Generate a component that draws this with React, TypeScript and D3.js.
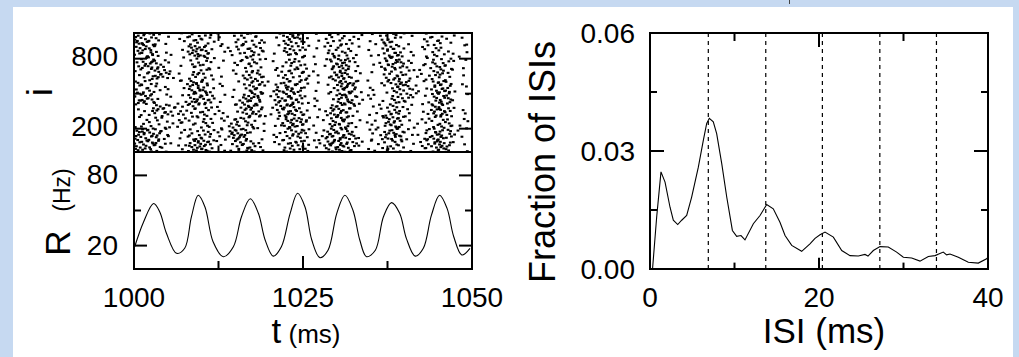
import React from "react";
import * as d3 from "d3";

// ---------- data ----------
// Population rate R (Hz) vs time t (ms)
const rTimes = [1000.1, 1001.4, 1002.9, 1003.8, 1004.8, 1006.3, 1007.5, 1008.5, 1009.5, 1010.5, 1011.7, 1013.2, 1014.7, 1015.9, 1017.2, 1018.4, 1019.4, 1020.6, 1021.8, 1023.1, 1024.2, 1025.3, 1026.3, 1027.5, 1028.7, 1030.0, 1031.2, 1032.4, 1033.4, 1034.4, 1035.7, 1036.9, 1038.1, 1039.3, 1040.3, 1041.6, 1042.8, 1044.0, 1045.2, 1046.3, 1047.3, 1048.5, 1049.7];
const rValues = [19, 40, 56, 49, 30.5, 13.4, 17.7, 44.7, 63, 53, 23.3, 10.5, 19, 44.7, 60, 47.6, 24.8, 11, 19, 47.6, 64.7, 53, 24.8, 9.7, 16, 47.6, 63, 50, 24.8, 10.5, 16, 44.7, 56.7, 47.6, 26, 11, 17.7, 46, 63, 52, 27.6, 12, 17.7];

// ISI distribution
const isiTimes = [0.3, 0.79, 1.3, 1.78, 2.37, 2.76, 3.28, 3.75, 4.34, 4.93, 5.72, 6.31, 6.71, 7.02, 7.49, 7.89, 8.49, 9.08, 9.75, 10.26, 10.77, 11.24, 12.23, 13.02, 13.81, 14.59, 15.38, 15.98, 16.77, 17.95, 18.93, 19.53, 20.12, 20.71, 21.7, 22.69, 23.67, 24.65, 25.44, 25.8, 26.43, 27.22, 28.2, 29.19, 29.98, 30.97, 31.95, 32.94, 33.73, 34.71, 35.1, 35.5, 36.49, 37.67, 38.85, 39.84, 40];
const isiValues = [0, 0.0132, 0.0247, 0.0221, 0.0157, 0.0124, 0.0113, 0.0124, 0.0136, 0.0183, 0.0259, 0.0327, 0.037, 0.0383, 0.0374, 0.0344, 0.0268, 0.0183, 0.0098, 0.0083, 0.0085, 0.0074, 0.0115, 0.0136, 0.0164, 0.0153, 0.0119, 0.0085, 0.006, 0.0045, 0.0064, 0.0078, 0.0087, 0.0094, 0.0081, 0.0047, 0.0034, 0.0033, 0.0037, 0.0033, 0.0047, 0.0057, 0.0056, 0.0043, 0.003, 0.0028, 0.002, 0.0032, 0.0034, 0.0043, 0.0036, 0.0038, 0.003, 0.0017, 0.0015, 0.0026, 0.003];

// dashed reference lines (multiples of the oscillation period)
const periodLines = [6.9, 13.7, 20.4, 27.2, 33.9];

// Raster spike counts per cell: rows = neuron bands (top to bottom, 102 neurons each), cols = 1 ms bins from 1000 ms
const rasterDensity = [
  "67641113443321134431026752113343221234421113432111",
  "57731101786212245541114543113443211126751113431121",
  "26752111344311124431113443102676210127752113443111",
  "23565311344310114541124454111676211114543222454110",
  "45431112786211112772157752111278621112675221686111",
  "78521112677411126761257752111268621212454212676101",
  "12356533444321126761267742112776211234532112675111",
  "23233232334312455421126764112676211226752212454121",
  "67764113444332786211124554125776411326762125775211",
  "67753112687521267621124554125776421224541125775111",
];

// tick labels
const tTicks = [1000, 1025, 1050];
const tMinor = [1012.5, 1037.5];
const iTicks = [200, 800];
const iMinor = [500];
const rTicks = [20, 80];
const rMinor = [50];
const isiXTicks = [0, 20, 40];
const isiXMinor = [10, 30];
const isiYTicks = [0, 0.03, 0.06];
const isiYMinor = [0.015, 0.045];

const W = 1019;
const H = 357;
const FONT = "'Liberation Sans', Arial, Helvetica, sans-serif";

function halton(index: number, base: number) {
  let f = 1, r = 0, i = index;
  while (i > 0) {
    f /= base;
    r += f * (i % base);
    i = Math.floor(i / base);
  }
  return r;
}

export default function App() {
  // left panel scales
  const xT = d3.scaleLinear().domain([1000, 1050]).range([134, 472]);
  const yI = d3.scaleLinear().domain([0, 1020]).range([152, 33]);
  const yR = d3.scaleLinear().domain([0, 100]).range([269, 152]);
  // right panel scales
  const xS = d3.scaleLinear().domain([0, 40]).range([650, 988]);
  const yS = d3.scaleLinear().domain([0, 0.06]).range([269, 33]);

  const rLine = d3
    .line<number>()
    .x((_, k) => xT(rTimes[k]))
    .y((v) => yR(v))
    .curve(d3.curveCatmullRom.alpha(0.5))(rValues) || "";

  const isiLine = d3
    .line<number>()
    .x((_, k) => xS(isiTimes[k]))
    .y((v) => yS(v))(isiValues) || "";

  const spikes: { t: number; i: number }[] = [];
  const rows = rasterDensity.length;
  const rowSpan = 1020 / rows;
  rasterDensity.forEach((row, r) => {
    const lo = 1020 - rowSpan * (r + 1);
    row.split("").forEach((ch, c) => {
      const n = +ch;
      for (let k = 0; k < n; k++) {
        const idx = (r * 50 + c) * 11 + k + 1;
        spikes.push({ t: 1000 + c + halton(idx, 2), i: lo + halton(idx, 3) * rowSpan });
      }
    });
  });

  const sw = 2;
  const tickStyle = { stroke: "#000", strokeWidth: sw };
  const tickFont = { fontFamily: FONT, fontSize: 28, fill: "#000" };

  return (
    <svg width={W} height={H} style={{ position: "absolute", left: 0, top: 0 }} xmlns="http://www.w3.org/2000/svg">
      <rect x={0} y={0} width={W} height={H} fill="#c6d9f1" />
      <rect x={13} y={7} width={1000} height={H - 7} fill="#fff" />
      <line x1={789.5} y1={0} x2={789.5} y2={4} stroke="#444" strokeWidth={1} />
      <defs>
        <clipPath id="rasterClip">
          <rect x={134} y={33} width={338} height={119} />
        </clipPath>
      </defs>

      {/* raster */}
      <g clipPath="url(#rasterClip)">
        {spikes.map((s, k) => (
          <rect key={k} x={xT(s.t) - 1.4} y={yI(s.i) - 1} width={2.8} height={2.1} fill="#000" />
        ))}
      </g>
      <rect x={134} y={33} width={338} height={119} fill="none" stroke="#000" strokeWidth={sw} />
      {/* raster ticks */}
      {[...iTicks.map((v) => [v, 13]), ...iMinor.map((v) => [v, 7])].map(([v, L], k) => (
        <g key={"it" + k}>
          <line x1={134} x2={134 + L} y1={yI(v)} y2={yI(v)} {...tickStyle} />
          <line x1={472} x2={472 - L} y1={yI(v)} y2={yI(v)} {...tickStyle} />
        </g>
      ))}
      {[...tTicks.map((v) => [v, 12]), ...tMinor.map((v) => [v, 8])].map(([v, L], k) => (
        <g key={"tt" + k}>
          <line x1={xT(v)} x2={xT(v)} y1={33} y2={33 + L} {...tickStyle} />
          <line x1={xT(v)} x2={xT(v)} y1={152} y2={152 - L * 0.8} {...tickStyle} />
        </g>
      ))}
      {iTicks.map((v) => (
        <text key={"il" + v} x={118} y={yI(v) + 7} textAnchor="end" {...tickFont}>{v}</text>
      ))}

      {/* rate panel */}
      <path d={rLine} fill="none" stroke="#000" strokeWidth={1.1} />
      <rect x={134} y={152} width={338} height={117} fill="none" stroke="#000" strokeWidth={sw} />
      {[...rTicks.map((v) => [v, 13]), ...rMinor.map((v) => [v, 7])].map(([v, L], k) => (
        <g key={"rt" + k}>
          <line x1={134} x2={134 + L} y1={yR(v)} y2={yR(v)} {...tickStyle} />
          <line x1={472} x2={472 - L} y1={yR(v)} y2={yR(v)} {...tickStyle} />
        </g>
      ))}
      {[...tTicks.map((v) => [v, 13]), ...tMinor.map((v) => [v, 8])].map(([v, L], k) => (
        <line key={"rb" + k} x1={xT(v)} x2={xT(v)} y1={269} y2={269 - L} {...tickStyle} />
      ))}
      {rTicks.map((v) => (
        <text key={"rl" + v} x={118} y={yR(v) + 9} textAnchor="end" {...tickFont}>{v}</text>
      ))}
      {tTicks.map((v) => (
        <text key={"tl" + v} x={xT(v)} y={307} textAnchor="middle" {...tickFont}>{v}</text>
      ))}
      <text x={306} y={343} textAnchor="middle" fontFamily={FONT} fill="#000">
        <tspan fontSize={35}>t</tspan>
        <tspan fontSize={26}> (ms)</tspan>
      </text>
      <text transform="translate(52,92) rotate(-90)" textAnchor="middle" fontFamily={FONT} fontSize={35} fill="#000">i</text>
      <text transform="translate(70,243) rotate(-90)" textAnchor="middle" fontFamily={FONT} fontSize={35} fill="#000">R</text>
      <text transform="translate(70,190) rotate(-90)" textAnchor="middle" fontFamily={FONT} fontSize={23} fill="#000">(Hz)</text>

      {/* ISI panel */}
      {periodLines.map((v) => (
        <line key={"pl" + v} x1={xS(v)} x2={xS(v)} y1={33} y2={269} stroke="#000" strokeWidth={1.2} strokeDasharray="4,4" />
      ))}
      <path d={isiLine} fill="none" stroke="#000" strokeWidth={1.1} />
      <rect x={650} y={33} width={338} height={236} fill="none" stroke="#000" strokeWidth={sw} />
      {[...isiYTicks.map((v) => [v, 14]), ...isiYMinor.map((v) => [v, 7])].map(([v, L], k) => (
        <g key={"sy" + k}>
          <line x1={650} x2={650 + L} y1={yS(v)} y2={yS(v)} {...tickStyle} />
          <line x1={988} x2={988 - L} y1={yS(v)} y2={yS(v)} {...tickStyle} />
        </g>
      ))}
      {[...isiXTicks.map((v) => [v, 14]), ...isiXMinor.map((v) => [v, 8])].map(([v, L], k) => (
        <g key={"sx" + k}>
          <line x1={xS(v)} x2={xS(v)} y1={33} y2={33 + L} {...tickStyle} />
          <line x1={xS(v)} x2={xS(v)} y1={269} y2={269 - L * 0.8} {...tickStyle} />
        </g>
      ))}
      {isiYTicks.map((v) => (
        <text key={"syl" + v} x={635} y={yS(v) + 10} textAnchor="end" {...tickFont}>{v.toFixed(2)}</text>
      ))}
      {isiXTicks.map((v) => (
        <text key={"sxl" + v} x={xS(v)} y={307} textAnchor="middle" {...tickFont}>{v}</text>
      ))}
      <text x={824} y={343} textAnchor="middle" fontFamily={FONT} fontSize={35} fill="#000">ISI (ms)</text>
      <text transform="translate(555,162) rotate(-90)" textAnchor="middle" fontFamily={FONT} fontSize={36} fill="#000">Fraction of ISIs</text>
    </svg>
  );
}
